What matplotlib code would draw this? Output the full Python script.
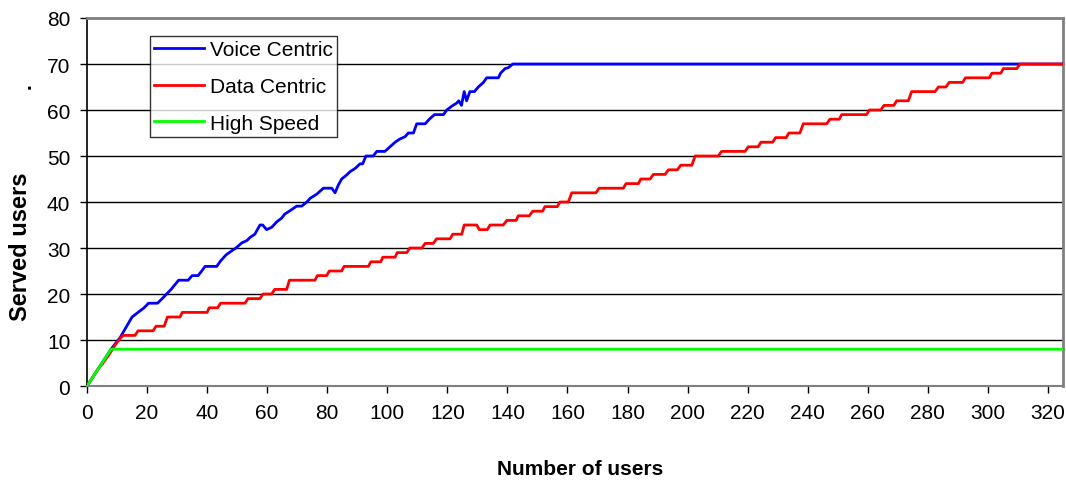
import matplotlib
matplotlib.use('Agg')
import matplotlib.pyplot as plt

plt.rcParams['font.family'] = ['Liberation Sans', 'DejaVu Sans']

# vertices of each curve (users, served users)
voice_x = [0, 8, 11, 15, 19, 20.5, 23.5, 25.5, 26.5, 28, 30.5, 33.7, 35, 37, 38.2, 39.3,
           43.2, 44.5, 46.3, 48, 49.8, 51.5, 53.2, 54.3, 55.9, 57.6, 58.5, 59.8, 61.5, 63.2,
           64.8, 65.9, 67.6, 69.8, 71.5, 73.2, 74.3, 76.5, 78.7, 81.5, 82.6, 83.7, 84.8, 86.5,
           87.6, 89.3, 90.9, 91.8, 92.9, 95.3, 96.5, 99.2, 100.9, 102.6, 104.2, 105.9, 107,
           108.7, 109.8, 112.6, 114, 115.7, 118.7, 119.8, 121.4, 123.1, 123.8, 124.7, 125.6,
           126.4, 127.5, 129, 130.3, 132, 133.1, 137, 137.7, 139.2, 140.3, 141.8, 325]
voice_y = [0, 8, 10.5, 15, 17, 18, 18, 19.3, 20, 21, 23, 23, 24, 24, 25, 26,
           26, 27.2, 28.5, 29.3, 30.1, 31.1, 31.6, 32.3, 33, 35, 35, 34, 34.5, 35.7,
           36.5, 37.4, 38.1, 39.1, 39.1, 40, 40.8, 41.7, 43, 43, 42, 43.7, 45, 45.9,
           46.6, 47.3, 48.3, 48.3, 50, 50, 51, 51, 52, 53, 53.7, 54.2, 55,
           55, 57, 57, 58, 59, 59, 60, 60.8, 61.5, 62, 61, 64,
           62, 64, 64, 65, 66, 67, 67, 68, 69, 69.2, 70, 70]

data_x = [0, 4, 5, 7, 10, 12, 16, 17, 22, 23, 25.7, 26.8, 31, 31.7, 40, 40.7, 43.5, 44.5,
          52.6, 53.6, 57.6, 58.6, 61.5, 62.5, 66.5, 67.4, 75.9, 76.7, 79.8, 80.7, 84.8, 85.6,
          93.7, 94.5, 97.8, 98.5, 102.6, 103.3, 106.5, 107.5, 111.5, 112.6, 115.3, 116.4,
          120.9, 121.8, 124.8, 125.6, 129.8, 130.6, 133.3, 134.2, 138.6, 139.8, 142.9, 143.6,
          147.3, 148.4, 151.7, 152.5, 156.6, 157.5, 160.3, 161.4, 169.5, 170.5, 178.6, 179.5,
          183.6, 184.4, 187.5, 188.6, 192.5, 193.6, 196.6, 197.7, 201.4, 202.5, 210.2, 211.3,
          219.1, 220.2, 223.5, 224.4, 228.3, 229.3, 232.8, 233.7, 237.4, 238.5, 246.3, 247.4,
          250.5, 251.3, 259.6, 260.5, 264.3, 265.4, 268.7, 269.6, 273.5, 274.6, 282.4, 283.5,
          286, 287.1, 291.6, 292.5, 300.5, 301.3, 304.3, 305.1, 309.6, 310.7, 325]
data_y = [0, 4, 4.7, 6.5, 9.5, 11, 11, 12, 12, 13, 13, 15, 15, 16, 16, 17, 17, 18,
          18, 19, 19, 20, 20, 21, 21, 23, 23, 24, 24, 25, 25, 26,
          26, 27, 27, 28, 28, 29, 29, 30, 30, 31, 31, 32,
          32, 33, 33, 35, 35, 34, 34, 35, 35, 36, 36, 37,
          37, 38, 38, 39, 39, 40, 40, 42, 42, 43, 43, 44,
          44, 45, 45, 46, 46, 47, 47, 48, 48, 50, 50, 51,
          51, 52, 52, 53, 53, 54, 54, 55, 55, 57, 57, 58,
          58, 59, 59, 60, 60, 61, 61, 62, 62, 64, 64, 65,
          65, 66, 66, 67, 67, 68, 68, 69, 69, 70, 70]

speed_x = [0, 8, 325]
speed_y = [0, 8, 8]

x_ticks = list(range(0, 321, 20))
y_ticks = list(range(0, 81, 10))

fig = plt.figure(figsize=(10.66, 4.81), dpi=100)
ax = fig.add_axes([0.0816, 0.1954, 0.9156, 0.7651])

for y in y_ticks[1:-1]:
    ax.axhline(y, color='black', lw=1.0, zorder=1)

ax.plot(voice_x, voice_y, color='#0000ff', lw=2.0, label='Voice Centric', zorder=3)
ax.plot(data_x, data_y, color='#ff0000', lw=2.0, label='Data Centric', zorder=4)
ax.plot(speed_x, speed_y, color='#00ff00', lw=2.0, label='High Speed', zorder=5)

ax.set_xlim(0, 325)
ax.set_ylim(0, 80)
ax.set_xticks(x_ticks)
ax.set_yticks(y_ticks)
ax.tick_params(axis='both', direction='out', length=5, width=1, labelsize=15, color='black')
ax.tick_params(axis='x', pad=7)
ax.tick_params(axis='y', pad=7)

for side in ['top', 'right']:
    ax.spines[side].set_color('#808080')
    ax.spines[side].set_linewidth(2)
ax.spines['left'].set_color('black')
ax.spines['left'].set_linewidth(1.2)
ax.spines['bottom'].set_color('#808080')
ax.spines['bottom'].set_linewidth(1.5)

ax.set_xlabel('Number of users', fontsize=15, fontweight='bold')
ax.xaxis.set_label_coords(0.505, -0.197)
ax.set_ylabel('Served users', fontsize=17, fontweight='bold')
ax.yaxis.set_label_coords(-0.0564, 0.38)
fig.text(0.024, 0.82, '.', fontsize=15, fontweight='bold', rotation=90, ha='center', va='center')

leg = ax.legend(loc='upper left', bbox_to_anchor=(0.0645, 0.951), fontsize=15, frameon=True,
                fancybox=False, edgecolor='black', handlelength=2.4, borderpad=0.2,
                labelspacing=0.85, handletextpad=0.3, borderaxespad=0)
leg.get_frame().set_linewidth(1.0)

fig.savefig('out.png', dpi=100)
